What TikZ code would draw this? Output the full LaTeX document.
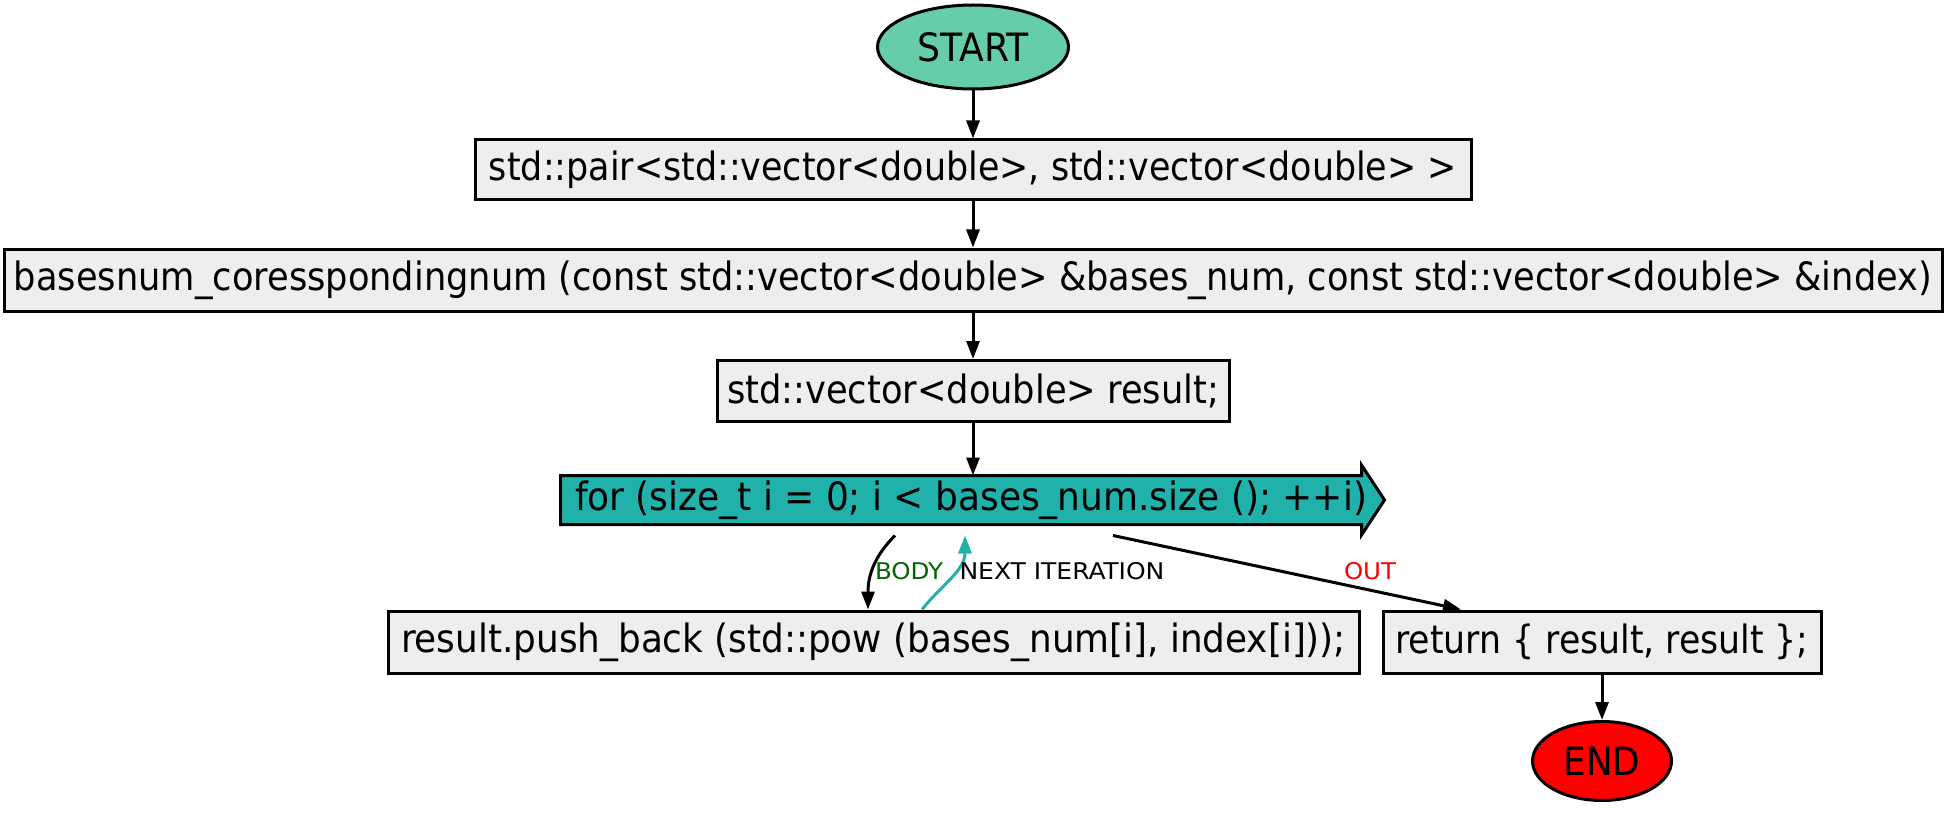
\documentclass[tikz,border=0pt]{standalone}
\usepackage{fontspec}
\usepackage{graphicx}
\setmainfont{DejaVu Sans Condensed}
\usetikzlibrary{arrows.meta,shapes.geometric}
\definecolor{startc}{HTML}{66CDAA}
\definecolor{forc}{HTML}{20B2AA}
\definecolor{boxc}{HTML}{EEEEEE}
\definecolor{bodyc}{RGB}{0,100,0}
\newcommand{\fitw}[2]{\resizebox{#1pt}{\height}{#2}}
\tikzset{
  base/.style={line width=3pt, draw=black, inner sep=0pt, font=\fontsize{39}{42}\selectfont},
  stmt/.style={base, rectangle, fill=boxc},
  term/.style={base, ellipse},
  conn/.style={line width=3pt, -{Triangle[length=18pt,width=13pt]}},
  lbl/.style={inner sep=0pt, font=\fontsize{23}{26}\selectfont},
}
\begin{document}
\begin{tikzpicture}[x=1pt,y=-1pt]
\useasboundingbox (0,0) rectangle (1946,813);
\node[term, fill=startc, minimum width=191pt, minimum height=84pt] (start) at (973,47) {\fitw{111}{START}};
\node[stmt, minimum width=996pt, minimum height=60pt] (b1) at (973,170) {\fitw{968}{std::pair<std::vector<double>, std::vector<double> >}};
\node[stmt, minimum width=1938pt, minimum height=62pt] (b2) at (973,280) {\fitw{1918}{basesnum\_coresspondingnum (const std::vector<double> \&bases\_num, const std::vector<double> \&index)}};
\node[stmt, minimum width=512pt, minimum height=61pt] (b3) at (973,391) {\fitw{492}{std::vector<double> result;}};
\node[base, draw=none, rectangle, minimum width=798pt, minimum height=46pt] (for) at (961,500) {};
\filldraw[line width=3pt, fill=forc, line join=miter]
  (for.north west) -- (for.north east) -- ++(0,-10.5) -- ([xshift=23pt]for.east) -- ([yshift=-10.5pt]for.south east) -- (for.south east) -- (for.south west) -- cycle;
\node[base, draw=none, anchor=west] (fortext) at ([xshift=13pt]for.west) {\fitw{792}{for (size\_t i = 0; i < bases\_num.size (); ++i)}};
\node[stmt, minimum width=971pt, minimum height=62pt] (push) at (873.5,642) {\fitw{945}{result.push\_back (std::pow (bases\_num[i], index[i]));}};
\node[stmt, minimum width=438pt, minimum height=62pt] (ret) at (1602,642) {\fitw{413}{return \{ result, result \};}};
\node[term, fill=red, minimum width=139pt, minimum height=79pt] (end) at (1602,761) {\fitw{77}{END}};

\draw[conn] (start) -- (b1);
\draw[conn] (b1) -- (b2);
\draw[conn] (b2) -- (b3);
\draw[conn] (b3) -- (for.north -| b3);
\draw[conn] ([xshift=-66pt,yshift=-11pt]for.south) .. controls +(-20,20) and +(0,-35) .. ([xshift=-5.5pt]push.north);
\draw[conn, draw=forc] ([xshift=48.5pt]push.north) .. controls +(20,-25) and +(0,35) .. ([xshift=4pt,yshift=-11pt]for.south);
\draw[conn] ([xshift=152pt,yshift=-11pt]for.south) -- ([xshift=-141pt]ret.north);
\draw[conn] (ret) -- (end);

\node[lbl, text=bodyc] (lbody) at (909,571) {\fitw{68}{BODY}};
\node[lbl] (lnext) at (1062,571) {\fitw{205}{NEXT ITERATION}};
\node[lbl, text=red] (lout) at (1370,571) {\fitw{52}{OUT}};
\end{tikzpicture}
\end{document}
